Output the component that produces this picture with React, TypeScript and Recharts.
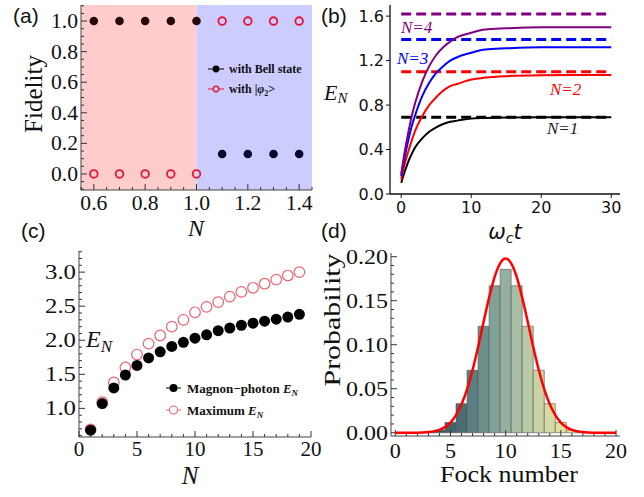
import React from 'react'
import { ScatterChart, Scatter, LineChart, Line, BarChart, Bar, Cell, XAxis, YAxis, ReferenceArea, ReferenceLine } from 'recharts'

// (a) fidelity
const fidN = [0.6, 0.7, 0.8, 0.9, 1.0, 1.1, 1.2, 1.3, 1.4]
const bellFid = [1, 1, 1, 1, 1, 0.13, 0.13, 0.13, 0.13]
const phi2Fid = [0, 0, 0, 0, 0, 1, 1, 1, 1]
const aXTicks = [0.6, 0.8, 1.0, 1.2, 1.4]
const aYTicks = [0, 0.2, 0.4, 0.6, 0.8, 1.0]

// (b) E_N vs time
const tVals = [0, 0.5, 1, 1.5, 2, 3, 4, 5, 6, 7, 8, 10, 12, 15, 20, 25, 30]
const enN1 = [0.10, 0.20, 0.29, 0.36, 0.42, 0.50, 0.56, 0.60, 0.63, 0.65, 0.66, 0.678, 0.684, 0.688, 0.69, 0.69, 0.69]
const enN2 = [0.13, 0.27, 0.38, 0.48, 0.57, 0.70, 0.80, 0.87, 0.93, 0.97, 0.99, 1.03, 1.047, 1.06, 1.068, 1.07, 1.07]
const enN3 = [0.16, 0.33, 0.48, 0.61, 0.71, 0.88, 1.00, 1.09, 1.15, 1.20, 1.23, 1.27, 1.30, 1.31, 1.32, 1.32, 1.32]
const enN4 = [0.18, 0.38, 0.55, 0.70, 0.82, 1.01, 1.15, 1.25, 1.32, 1.37, 1.41, 1.45, 1.48, 1.49, 1.50, 1.50, 1.50]
const enLimit = [0.69, 1.10, 1.39, 1.62]
const bColors = ['#000000', '#ff0000', '#0000ff', '#800080']
const bXTicks = [0, 10, 20, 30]
const bYTicks = [0, 0.4, 0.8, 1.2, 1.6]

// (c) E_N vs N
const cN = [1, 2, 3, 4, 5, 6, 7, 8, 9, 10, 11, 12, 13, 14, 15, 16, 17, 18, 19]
const enMagPho = [0.68, 1.07, 1.30, 1.49, 1.63, 1.74, 1.83, 1.91, 1.97, 2.03, 2.08, 2.14, 2.18, 2.22, 2.25, 2.28, 2.31, 2.34, 2.38]
const enMaximum = [0.69, 1.09, 1.38, 1.60, 1.79, 1.95, 2.07, 2.20, 2.30, 2.41, 2.49, 2.56, 2.64, 2.71, 2.77, 2.83, 2.89, 2.95, 3.00]
const cXTicks = [0, 5, 10, 15, 20]
const cYTicks = [1.0, 1.5, 2.0, 2.5, 3.0]

// (d) Fock distribution
const fockN = [3, 4, 5, 6, 7, 8, 9, 10, 11, 12, 13, 14, 15, 16, 17]
const fockP = [0.0006, 0.003, 0.0117, 0.033, 0.071, 0.121, 0.167, 0.1856, 0.167, 0.121, 0.071, 0.033, 0.0117, 0.003, 0.0006]
const fockColors = ['#2f4f58', '#37575f', '#40626a', '#4b6e74', '#5a7e81', '#6d8f8c', '#81a097', '#95b0a0', '#a8bea5', '#b8c9a6', '#c9d3a6', '#d6dba6', '#e0e0a3', '#e6e3ab', '#ebe6b3']
const fitX = [0, 1, 2, 3, 4, 4.5, 5, 5.5, 6, 6.5, 7, 7.5, 8, 8.5, 9, 9.5, 10, 10.5, 11, 11.5, 12, 12.5, 13, 13.5, 14, 14.5, 15, 15.5, 16, 17, 18, 19, 20]
const fitP = [0, 0, 0.0001, 0.0008, 0.0033, 0.0064, 0.0116, 0.020, 0.0323, 0.0493, 0.0713, 0.0975, 0.126, 0.1535, 0.177, 0.1925, 0.198, 0.1925, 0.177, 0.1535, 0.126, 0.0975, 0.0713, 0.0493, 0.0323, 0.020, 0.0116, 0.0064, 0.0033, 0.0008, 0.0001, 0, 0]
const dXTicks = [0, 5, 10, 15, 20]
const dYTicks = [0, 0.05, 0.1, 0.15, 0.2]

const steps = (a: number, b: number, s: number) => {
  const out: number[] = []
  for (let i = 0; a + i * s <= b + 1e-9; i++) out.push(+(a + i * s).toFixed(4))
  return out
}

const SERIF = 'Liberation Serif, Times New Roman, serif'
const SANS = 'DejaVu Sans, sans-serif'

type TickCfg = {
  side: 'bottom' | 'left' | 'top' | 'right'
  major: number[]
  fmt?: (v: number) => string
  font?: string
  size?: number
  gap?: number
  inward?: boolean
  majLen?: number
  minLen?: number
  stretch?: number
  stroke?: string
}

// draws tick mark + (optional) label; axis uses tickSize 0 so p.x/p.y sit on the frame
const frameTick = (c: TickCfg) => (p: any) => {
  const v = p.payload.value
  const isMajor = c.major.some((m) => Math.abs(m - v) < 1e-6)
  const len = isMajor ? c.majLen ?? 6 : c.minLen ?? 3
  const s = c.inward === false ? -1 : 1
  const { x, y } = p
  let ln
  if (c.side === 'bottom') ln = [x, y, x, y - s * len]
  else if (c.side === 'top') ln = [x, y, x, y + s * len]
  else if (c.side === 'left') ln = [x, y, x + s * len, y]
  else ln = [x, y, x - s * len, y]
  let label = null
  if (isMajor && c.fmt) {
    const txt = c.fmt(v)
    const size = c.size ?? 20
    const natural = [...txt].reduce((w, ch) => w + (ch === '.' ? 0.25 : 0.5), 0) * size
    const extra = c.stretch ? { textLength: natural * c.stretch, lengthAdjust: 'spacingAndGlyphs' } : {}
    const common = { fontFamily: c.font ?? SERIF, fontSize: size, fill: '#111', dominantBaseline: 'central' as const }
    if (c.side === 'bottom') label = <text x={x} y={y + (c.gap ?? 14)} textAnchor="middle" {...common} {...extra}>{txt}</text>
    else if (c.side === 'left') label = <text x={x - (c.gap ?? 4)} y={y} textAnchor="end" {...common} {...extra}>{txt}</text>
  }
  return (
    <g>
      <line x1={ln[0]} y1={ln[1]} x2={ln[2]} y2={ln[3]} stroke={c.stroke ?? '#333'} strokeWidth={1} />
      {label}
    </g>
  )
}

const fix = (d: number) => (v: number) => v.toFixed(d)

function PanelA() {
  const bell = fidN.map((n, i) => ({ n, f: bellFid[i] }))
  const phi = fidN.map((n, i) => ({ n, f: phi2Fid[i] }))
  const xAll = steps(0.55, 1.45, 0.05)
  const yAll = steps(-0.1, 1.1, 0.05)
  const dom = [0.55, 1.45]
  const ydom = [-0.105, 1.105]
  const ax = { stroke: '#444' }
  return (
    <ScatterChart width={322} height={245} margin={{ top: 5, right: 10, bottom: 0, left: 0 }}>
      <ReferenceArea x1={0.55} x2={1.0} fill="#ffcccc" fillOpacity={1} stroke="none" />
      <ReferenceArea x1={1.0} x2={1.45} fill="#ccccff" fillOpacity={1} stroke="none" />
      <XAxis dataKey="n" type="number" domain={dom} allowDataOverflow ticks={xAll} interval={0} height={55} tickSize={0} tickMargin={0} tickLine={false} axisLine={ax}
        tick={frameTick({ side: 'bottom', major: aXTicks, fmt: fix(1), size: 20, gap: 13, stretch: 1.08 })} />
      <XAxis xAxisId="top" orientation="top" type="number" domain={dom} allowDataOverflow ticks={xAll} interval={0} height={0} tickSize={0} tickMargin={0} tickLine={false} axisLine={ax}
        tick={frameTick({ side: 'top', major: aXTicks })} />
      <YAxis dataKey="f" type="number" domain={ydom} allowDataOverflow ticks={yAll} interval={0} width={81} tickSize={0} tickMargin={0} tickLine={false} axisLine={ax}
        tick={frameTick({ side: 'left', major: aYTicks, fmt: fix(1), size: 20, gap: 3, stretch: 1.08 })} />
      <YAxis yAxisId="right" orientation="right" type="number" domain={ydom} allowDataOverflow ticks={yAll} interval={0} width={0} tickSize={0} tickMargin={0} tickLine={false} axisLine={ax}
        tick={frameTick({ side: 'right', major: aYTicks })} />
      <Scatter data={phi} isAnimationActive={false}
        shape={(p: any) => <circle cx={p.cx} cy={p.cy} r={3.8} fill="none" stroke="#e3163a" strokeWidth={1.8} />} />
      <Scatter data={bell} isAnimationActive={false}
        shape={(p: any) => <circle cx={p.cx} cy={p.cy} r={4.3} fill={p.payload.n <= 1 ? '#2a0707' : '#07072c'} />} />
    </ScatterChart>
  )
}

function PanelB() {
  const rows = tVals.map((t, i) => ({ t, e1: enN1[i], e2: enN2[i], e3: enN3[i], e4: enN4[i] }))
  const dom = [-1.6, 31.25]
  const ydom = [0, 1.7]
  const ax = { stroke: '#111', strokeWidth: 1.3 }
  return (
    <LineChart width={322} height={245} data={rows} margin={{ top: 5, right: 24, bottom: 0, left: 0 }}>
      <XAxis dataKey="t" type="number" domain={dom} allowDataOverflow ticks={bXTicks} interval={0} height={51} tickSize={0} tickMargin={0} tickLine={false} axisLine={ax}
        tick={frameTick({ side: 'bottom', major: bXTicks, fmt: (v) => String(v), font: SANS, size: 16, gap: 13, inward: false, majLen: 4, stroke: '#111' })} />
      <XAxis xAxisId="top" orientation="top" type="number" domain={dom} allowDataOverflow height={0} tick={false} tickLine={false} axisLine={ax} />
      <YAxis type="number" domain={ydom} allowDataOverflow ticks={bYTicks} interval={0} width={68} tickSize={0} tickMargin={0} tickLine={false} axisLine={ax}
        tick={frameTick({ side: 'left', major: bYTicks, fmt: fix(1), font: SANS, size: 16, gap: 6, inward: false, majLen: 4, stroke: '#111' })} />
      <YAxis yAxisId="right" orientation="right" type="number" domain={ydom} allowDataOverflow width={0} tick={false} tickLine={false} axisLine={ax} />
      {enLimit.map((v, i) => (
        <ReferenceLine key={i} segment={[{ x: 0, y: v }, { x: 30, y: v }]} stroke={bColors[i]} strokeWidth={3} strokeDasharray="10 5" />
      ))}
      {['e1', 'e2', 'e3', 'e4'].map((k, i) => (
        <Line key={k} type="monotone" dataKey={k} stroke={bColors[i]} strokeWidth={2} dot={false} isAnimationActive={false} />
      ))}
    </LineChart>
  )
}

function PanelC() {
  const mp = cN.map((n, i) => ({ n, e: enMagPho[i] }))
  const mx = cN.map((n, i) => ({ n, e: enMaximum[i] }))
  const xAll = steps(0, 20, 1)
  const yAll = steps(0.6, 3.3, 0.1)
  const dom = [0, 20]
  const ydom = [0.58, 3.31]
  const ax = { stroke: '#444' }
  return (
    <ScatterChart width={322} height={252} margin={{ top: 6, right: 11, bottom: 0, left: 0 }}>
      <XAxis dataKey="n" type="number" domain={dom} allowDataOverflow ticks={xAll} interval={0} height={60} tickSize={0} tickMargin={0} tickLine={false} axisLine={ax}
        tick={frameTick({ side: 'bottom', major: cXTicks, fmt: (v) => String(v), size: 21, gap: 12 })} />
      <XAxis xAxisId="top" orientation="top" type="number" domain={dom} allowDataOverflow ticks={xAll} interval={0} height={0} tickSize={0} tickMargin={0} tickLine={false} axisLine={ax}
        tick={frameTick({ side: 'top', major: cXTicks })} />
      <YAxis dataKey="e" type="number" domain={ydom} allowDataOverflow ticks={yAll} interval={0} width={79} tickSize={0} tickMargin={0} tickLine={false} axisLine={ax}
        tick={frameTick({ side: 'left', major: cYTicks, fmt: fix(1), size: 21, gap: 3, stretch: 1.18 })} />
      <YAxis yAxisId="right" orientation="right" type="number" domain={ydom} allowDataOverflow ticks={yAll} interval={0} width={0} tickSize={0} tickMargin={0} tickLine={false} axisLine={ax}
        tick={frameTick({ side: 'right', major: cYTicks })} />
      <Scatter data={mx} isAnimationActive={false}
        shape={(p: any) => <circle cx={p.cx} cy={p.cy} r={5.3} fill="none" stroke="#f0606e" strokeWidth={1.2} />} />
      <Scatter data={mp} isAnimationActive={false}
        shape={(p: any) => <circle cx={p.cx} cy={p.cy} r={5.5} fill="#000" />} />
    </ScatterChart>
  )
}

const dDom = [-0.39, 20.36]
const dYDom = [-0.0037, 0.2042]
const dMargin = { top: 8, right: 24, bottom: 0, left: 0 }

// histogram with the frame
function PanelDBars() {
  const bars = fockN.map((k, i) => ({ k, p: fockP[i] }))
  const xAll = steps(0, 20, 1)
  const yAll = steps(0, 0.2, 0.01)
  const ax = { stroke: '#444' }
  return (
    <BarChart width={322} height={252} data={bars} margin={dMargin} barCategoryGap={0}>
      <XAxis dataKey="k" type="number" domain={dDom} allowDataOverflow ticks={xAll} interval={0} height={61} tickSize={0} tickMargin={0} tickLine={false} axisLine={ax}
        tick={frameTick({ side: 'bottom', major: dXTicks, fmt: (v) => String(v), size: 21, gap: 15, stretch: 1.05 })} />
      <XAxis xAxisId="top" orientation="top" type="number" domain={dDom} allowDataOverflow ticks={xAll} interval={0} height={0} tickSize={0} tickMargin={0} tickLine={false} axisLine={ax}
        tick={frameTick({ side: 'top', major: dXTicks })} />
      <YAxis type="number" domain={dYDom} allowDataOverflow ticks={yAll} interval={0} width={69} tickSize={0} tickMargin={0} tickLine={false} axisLine={ax}
        tick={frameTick({ side: 'left', major: dYTicks, fmt: fix(2), size: 20, gap: 3, stretch: 1.2 })} />
      <YAxis yAxisId="right" orientation="right" type="number" domain={dYDom} allowDataOverflow ticks={yAll} interval={0} width={0} tickSize={0} tickMargin={0} tickLine={false} axisLine={ax}
        tick={frameTick({ side: 'right', major: dYTicks })} />
      <Bar dataKey="p" isAnimationActive={false} stroke="#555" strokeOpacity={0.6} strokeWidth={1}>
        {bars.map((b, i) => <Cell key={b.k} fill={fockColors[i]} />)}
      </Bar>
    </BarChart>
  )
}

// fitted curve, same geometry, stacked on top
function PanelDFit() {
  const fit = fitX.map((k, i) => ({ k, g: fitP[i] }))
  return (
    <LineChart width={322} height={252} data={fit} margin={dMargin}>
      <XAxis dataKey="k" type="number" domain={dDom} allowDataOverflow height={61} tick={false} tickLine={false} axisLine={false} />
      <YAxis type="number" domain={dYDom} allowDataOverflow width={69} tick={false} tickLine={false} axisLine={false} />
      <Line dataKey="g" type="monotone" stroke="#ff0000" strokeWidth={2.5} dot={false} isAnimationActive={false} />
    </LineChart>
  )
}

function Overlay() {
  const letter = { fontFamily: 'Liberation Sans, Arial, sans-serif', fontSize: 21, fill: '#111', dominantBaseline: 'central' as const }
  const nLab = { fontFamily: SERIF, fontStyle: 'italic', fontSize: 17 }
  const leg = { fontFamily: SERIF, fontWeight: 700, fill: '#111' }
  return (
    <svg width={644} height={497} style={{ position: 'absolute', left: 0, top: 0, pointerEvents: 'none' }}>
      <text x={13} y={15} {...letter}>(a)</text>
      <text x={321} y={15} {...letter}>(b)</text>
      <text x={21} y={230} {...letter}>(c)</text>
      <text x={321} y={230} {...letter}>(d)</text>

      {/* (a) */}
      <text transform="translate(33,94) rotate(-90)" textAnchor="middle" dominantBaseline="central" fontFamily={SERIF} fontSize={25} fill="#111">Fidelity</text>
      <text x={196} y={236} textAnchor="middle" fontFamily={SERIF} fontStyle="italic" fontSize={24} fill="#111">N</text>
      <line x1={208} y1={69} x2={224} y2={69} stroke="#000" strokeWidth={1} />
      <circle cx={216} cy={69} r={3.4} fill="#000" />
      <text x={229} y={73} fontSize={12} {...leg}>with Bell state</text>
      <line x1={208} y1={89} x2={224} y2={89} stroke="#e3163a" strokeWidth={1} />
      <circle cx={216} cy={89} r={2.8} fill="#ccccff" stroke="#e3163a" strokeWidth={1.4} />
      <text x={229} y={93} fontSize={12} {...leg}>with |<tspan fontStyle="italic">φ</tspan><tspan fontSize={8} dy={3}>2</tspan><tspan dy={-3}>&gt;</tspan></text>

      {/* (b) */}
      <text x={324} y={100} fontFamily={SERIF} fontStyle="italic" fontSize={22} fill="#111">E<tspan fontSize={15} dy={3}>N</tspan></text>
      <text x={505} y={239} textAnchor="middle" fontFamily={SANS} fontStyle="italic" fontSize={21} fill="#111">ω<tspan fontSize={14} dy={4}>c</tspan><tspan dy={-4}>t</tspan></text>
      <text x={401} y={33} {...nLab} fill="#800080">N=4</text>
      <text x={397} y={64} {...nLab} fill="#0000ff">N=3</text>
      <text x={550} y={95} {...nLab} fill="#ff0000">N=2</text>
      <text x={547} y={134} {...nLab} fill="#222">N=1</text>

      {/* (c) */}
      <text x={86} y={347} fontFamily={SERIF} fontStyle="italic" fontSize={24} fill="#111">E<tspan fontSize={17} dy={5}>N</tspan></text>
      <text x={190} y={484} textAnchor="middle" fontFamily={SERIF} fontStyle="italic" fontSize={25} fill="#111">N</text>
      <line x1={166} y1={388} x2={181} y2={388} stroke="#000" strokeWidth={1} />
      <circle cx={173.5} cy={388} r={4} fill="#000" />
      <text x={187} y={393} fontSize={13} {...leg}>Magnon−photon <tspan fontStyle="italic">E</tspan><tspan fontStyle="italic" fontSize={9} dy={3}>N</tspan></text>
      <line x1={166} y1={410} x2={181} y2={410} stroke="#f0606e" strokeWidth={1} />
      <circle cx={173.5} cy={410} r={4} fill="#fff" stroke="#f0606e" strokeWidth={1.1} />
      <text x={187} y={415} fontSize={13} {...leg}>Maximum <tspan fontStyle="italic">E</tspan><tspan fontStyle="italic" fontSize={9} dy={3}>N</tspan></text>

      {/* (d) */}
      <text transform="translate(332,320) rotate(-90)" textAnchor="middle" dominantBaseline="central" fontFamily={SERIF} fontSize={23} fill="#111" textLength={133} lengthAdjust="spacingAndGlyphs">Probability</text>
      <text x={509} y={482} textAnchor="middle" fontFamily={SERIF} fontSize={23} fill="#111" textLength={138} lengthAdjust="spacingAndGlyphs">Fock number</text>
    </svg>
  )
}

export default function App() {
  const box = (left: number, top: number): React.CSSProperties => ({ position: 'absolute', left, top })
  return (
    <div style={{ position: 'absolute', left: 0, top: 0, width: 644, height: 497, background: '#fff', overflow: 'hidden' }}>
      <div style={box(0, 0)}><PanelA /></div>
      <div style={box(322, 0)}><PanelB /></div>
      <div style={box(0, 245)}><PanelC /></div>
      <div style={box(322, 245)}><PanelDBars /></div>
      <div style={box(322, 245)}><PanelDFit /></div>
      <Overlay />
    </div>
  )
}
